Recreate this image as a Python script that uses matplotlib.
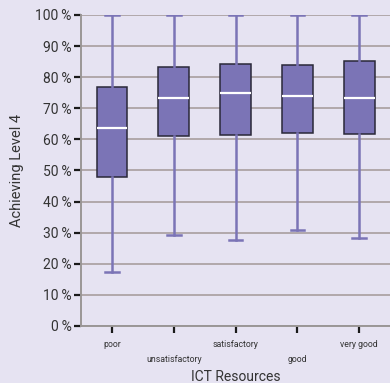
import matplotlib.pyplot as plt
import numpy as np

categories = ["poor", "unsatisfactory", "satisfactory", "good", "very good"]
whisker_low = [17.5, 29.4, 27.7, 30.9, 28.3]
q1 = [47.9, 61.2, 61.4, 62.0, 61.7]
median = [63.8, 73.4, 75.0, 74.0, 73.3]
q3 = [76.7, 83.4, 84.2, 83.9, 85.1]
whisker_high = [100, 100, 100, 100, 100]
yticks = list(range(0, 101, 10))

bg = "#E6E3F2"
purple = "#7B74B6"

plt.rcParams['font.family'] = ['Roboto', 'DejaVu Sans']

fig = plt.figure(figsize=(3.9, 3.83), dpi=100, facecolor=bg)
ax = fig.add_axes([0.208, 0.149, 0.792, 0.812], facecolor=bg)

stats = []
for i, c in enumerate(categories):
    stats.append(dict(label=c, whislo=whisker_low[i], q1=q1[i], med=median[i],
                      q3=q3[i], whishi=whisker_high[i], fliers=[]))

ax.bxp(stats, positions=np.arange(len(categories)), widths=0.5,
       patch_artist=True, showfliers=False,
       boxprops=dict(facecolor=purple, edgecolor="#2A2838", linewidth=1.1),
       medianprops=dict(color="white", linewidth=1.6),
       whiskerprops=dict(color=purple, linewidth=1.8),
       capprops=dict(color=purple, linewidth=1.8),
       capwidths=0.22, zorder=3)

ax.set_xlim(-0.5, 4.5)
ax.set_ylim(0, 100)
ax.set_yticks(yticks)
ax.set_yticklabels([f"{v}\u2009%" for v in yticks], fontsize=10, color="#333333")
ax.yaxis.grid(True, color="#A89E9E", linewidth=1.2, zorder=0)
ax.set_axisbelow(True)

ax.set_xticks(np.arange(len(categories)))
labels = ax.set_xticklabels(categories, fontsize=6.3, color="#333333")
for i, lab in enumerate(labels):
    if i % 2 == 1:
        lab.set_y(-0.05)

ax.tick_params(axis='both', length=5, width=1.6, color="#1a1a1a")
ax.tick_params(axis='x', pad=5)
ax.tick_params(axis='y', pad=2)

for s in ["top", "right"]:
    ax.spines[s].set_visible(False)
ax.spines["left"].set_color("#9A9696")
ax.spines["left"].set_linewidth(1.4)
ax.spines["bottom"].set_color("#9A9696")
ax.spines["bottom"].set_linewidth(1.4)

ax.set_xlabel("ICT Resources", fontsize=10, color="#333333")
ax.xaxis.set_label_coords(0.5, -0.142)
ax.set_ylabel("Achieving Level 4", fontsize=10.5, color="#333333")
ax.yaxis.set_label_coords(-0.185, 0.5)

fig.savefig("out.png", dpi=100, facecolor=bg)
